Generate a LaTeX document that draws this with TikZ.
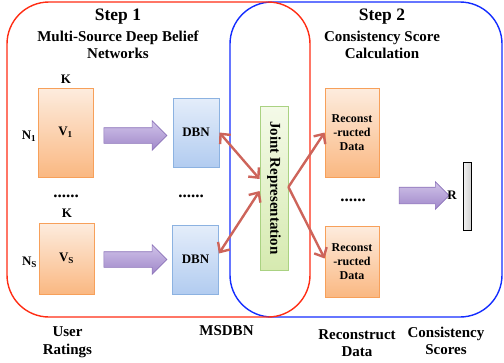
\documentclass[tikz,border=0pt]{standalone}
\usepackage{fontspec}
\setmainfont{Liberation Serif}
\usetikzlibrary{arrows.meta,shapes.arrows,calc}

\definecolor{frameRed}{RGB}{255,45,20}
\definecolor{frameBlue}{RGB}{20,45,255}
\definecolor{orTop}{RGB}{253,236,222}
\definecolor{orBot}{RGB}{250,184,130}
\definecolor{orLine}{RGB}{247,160,90}
\definecolor{blTop}{RGB}{228,237,250}
\definecolor{blBot}{RGB}{178,204,240}
\definecolor{blLine}{RGB}{140,178,225}
\definecolor{grTop}{RGB}{244,250,232}
\definecolor{grBot}{RGB}{214,234,176}
\definecolor{grLine}{RGB}{170,210,130}
\definecolor{puTop}{RGB}{208,195,232}
\definecolor{puBot}{RGB}{160,135,202}
\definecolor{puLine}{RGB}{140,115,185}
\definecolor{linkRed}{RGB}{205,100,90}

\tikzset{
  frame/.style={line width=1.4pt, rounded corners=42pt},
  matbox/.style={draw=orLine, line width=0.8pt, top color=orTop, bottom color=orBot,
    inner sep=0pt, font=\fontsize{13}{15}\selectfont\bfseries},
  dbnbox/.style={draw=blLine, line width=0.8pt, top color=blTop, bottom color=blBot,
    minimum width=46pt, minimum height=69pt, inner sep=0pt,
    font=\fontsize{13}{15}\selectfont\bfseries},
  jointbox/.style={draw=grLine, line width=0.8pt, top color=grTop, bottom color=grBot,
    minimum width=28pt, minimum height=164pt, inner sep=0pt},
  recbox/.style={draw=orLine, line width=0.8pt, top color=orTop, bottom color=orBot,
    minimum width=54pt, inner sep=0pt, align=center,
    font=\fontsize{12}{14}\selectfont\bfseries},
  fatarrow/.style={single arrow, draw=puLine, line width=0.6pt,
    top color=puTop, bottom color=puBot, inner xsep=0pt, inner ysep=7.5pt,
    single arrow head extend=7pt, single arrow tip angle=90},
  barb/.tip={Straight Barb[length=7.5pt,width=14pt]},
  link/.style={draw=linkRed, line width=2.4pt, arrows={-barb}},
  twolink/.style={draw=linkRed, line width=2.4pt, arrows={barb-barb}},
  biglabel/.style={font=\fontsize{15}{17.5}\selectfont\bfseries, align=center, inner sep=0pt},
  steplabel/.style={font=\fontsize{17.5}{20}\selectfont\bfseries, inner sep=0pt},
  small/.style={font=\fontsize{13}{15}\selectfont\bfseries, inner sep=0pt},
  dots/.style={font=\fontsize{17}{19}\selectfont\bfseries, inner sep=0pt}
}

\begin{document}
\begin{tikzpicture}[x=1pt, y=-1pt]
\useasboundingbox (0,0) rectangle (504,362);

% the two stage frames
\draw[frame, frameBlue] (230,2) rectangle (502,317);
\draw[frame, frameRed] (7,2) rectangle (310,317);

% headings
\node[steplabel] (h1) at (118,17) {Step 1};
\node[biglabel] (h1b) at (118,45) {Multi-Source Deep Belief\\Networks};
\node[steplabel] (h2) at (382,17) {Step 2};
\node[biglabel] (h2b) at (382,45) {Consistency Score\\Calculation};

% rating matrices
\node[matbox, minimum width=55pt, minimum height=89pt] (v1) at (65.5,132.5) {V\textsubscript{1}};
\node[small] (k1) at (66,79) {K};
\node[small] (n1) at (29,136) {N\textsubscript{1}};
\node[matbox, minimum width=55pt, minimum height=71pt] (vs) at (66.5,258.5) {V\textsubscript{S}};
\node[small] (k2) at (67,213.5) {K};
\node[small] (ns) at (29.5,262) {N\textsubscript{S}};
\node[dots] (d1) at (66,196) {......};

% fat arrows into the DBNs
\node[fatarrow, minimum height=63pt] (a1) at (131.5,135.5) {};
\node[fatarrow, minimum height=63pt] (a2) at (131.5,259.5) {};

% DBNs
\node[dbnbox] (dbn1) at (196,132.5) {DBN};
\node[dbnbox] (dbn2) at (195.5,259.5) {DBN};
\node[dots] (d2) at (191,196) {......};

% joint representation
\node[jointbox] (joint) at (274,188) {};
\node[font=\fontsize{15}{17}\selectfont\bfseries, rotate=-90, inner sep=0pt] (jt) at (joint.center) {Joint Representation};

% reconstructed data
\node[recbox, minimum height=89pt] (rec1) at (352,132.5) {Reconst\\-ructed\\Data};
\node[recbox, minimum height=71pt] (rec2) at (352,261.5) {Reconst\\-ructed\\Data};
\node[dots] (d3) at (353,200) {......};

% links between DBNs, joint layer and reconstructions
\coordinate (jl1) at ($(joint.west)+(0,-9)$);
\coordinate (jl2) at ($(joint.west)+(0,3)$);
\coordinate (jr) at ($(joint.east)+(0,-1)$);
\draw[twolink] (jl1) -- (dbn1.east);
\draw[twolink] (jl2) -- ($(dbn2.east)+(0,-6)$);
\draw[link] (jr) -- (rec1.west);
\draw[link] (jr) -- ($(rec2.west)+(0,-3)$);

% consistency scores
\node[fatarrow, minimum height=50pt, inner ysep=8pt, single arrow head extend=5.5pt] (a3) at (420,195.5) {};
\node[small] (r) at (452,195) {R};
\node[draw=black, line width=0.8pt, left color=gray!10, right color=gray!35,
      minimum width=8pt, minimum height=68pt, inner sep=0pt] (bar) at (467,196) {};

% stage captions
\node[biglabel] (c1) at (67.5,342) {User\\Ratings};
\node[biglabel] (c2) at (226.5,331) {MSDBN};
\node[biglabel] (c3) at (357,343) {Reconstruct\\Data};
\node[biglabel] (c4) at (446,341) {Consistency\\Scores};
\end{tikzpicture}
\end{document}
